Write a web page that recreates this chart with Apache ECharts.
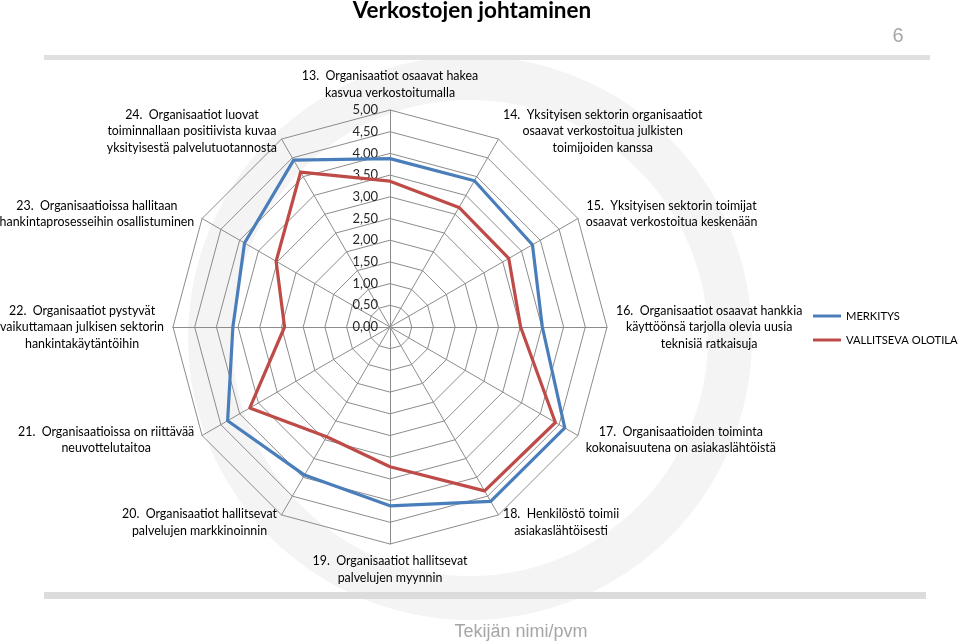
<!DOCTYPE html>
<html><head><meta charset="utf-8">
<script src="https://cdn.jsdelivr.net/npm/echarts@6/dist/echarts.min.js"></script>
<style>html,body{margin:0;padding:0;background:#fff}#c{width:960px;height:644px}</style>
</head><body><div id="c"></div>
<script>
// indicator names, in the reference's order 13..24 (clockwise from top)
const indicatorNames = [
  "13.  Organisaatiot osaavat hakea\nkasvua verkostoitumalla",
  "14.  Yksityisen sektorin organisaatiot\nosaavat verkostoitua julkisten\ntoimijoiden kanssa",
  "15.  Yksityisen sektorin toimijat\nosaavat verkostoitua keskenään",
  "16.  Organisaatiot osaavat hankkia\nkäyttöönsä tarjolla olevia uusia\nteknisiä ratkaisuja",
  "17.  Organisaatioiden toiminta\nkokonaisuutena on asiakaslähtöistä",
  "18.  Henkilöstö toimii\nasiakaslähtöisesti",
  "19.  Organisaatiot hallitsevat\npalvelujen myynnin",
  "20.  Organisaatiot hallitsevat\npalvelujen markkinoinnin",
  "21.  Organisaatioissa on riittävää\nneuvottelutaitoa",
  "22.  Organisaatiot pystyvät\nvaikuttamaan julkisen sektorin\nhankintakäytäntöihin",
  "23.  Organisaatioissa hallitaan\nhankintaprosesseihin osallistuminen",
  "24.  Organisaatiot luovat\ntoiminnallaan positiivista kuvaa\nyksityisestä palvelutuotannosta"
];
const merkitys   = [3.88, 3.89, 3.79, 3.51, 4.65, 4.64, 4.12, 3.94, 4.32, 3.62, 3.87, 4.44];
const vallitseva = [3.36, 3.18, 3.16, 3.01, 4.40, 4.36, 3.22, 2.92, 3.73, 2.43, 3.03, 4.12];
const seriesNames = ["MERKITYS", "VALLITSEVA OLOTILA"];
const tickLabels = ["0,00","0,50","1,00","1,50","2,00","2,50","3,00","3,50","4,00","4,50","5,00"];
const axisMax = 5;

// ECharts radar places indicators counter-clockwise; reorder so 13..24 run clockwise
const order = [0, 11, 10, 9, 8, 7, 6, 5, 4, 3, 2, 1];
const reorder = arr => order.map(i => arr[i]);

const FONT = 'Lato, "Noto Sans", sans-serif';
const CX = 390, CY = 327, R = 217;

const chart = echarts.init(document.getElementById('c'), null, {renderer: 'canvas'});
chart.setOption({
  backgroundColor: '#ffffff',
  animation: false,
  graphic: [
    {type: 'ring', z: -10, shape: {cx: 470, cy: 338, r: 282, r0: 238}, style: {fill: '#f4f4f4'}},
    {type: 'rect', z: -5, shape: {x: 44, y: 55, width: 886, height: 5}, style: {fill: '#e0e0e0'}},
    {type: 'rect', z: -5, shape: {x: 44, y: 592, width: 882, height: 7}, style: {fill: '#dcdcdc'}},
    {type: 'text', x: 472, y: 11, style: {text: 'Verkostojen johtaminen', align: 'center', verticalAlign: 'middle',
      fontFamily: 'Lato, sans-serif', fontWeight: 'bold', fontSize: 22.5, fill: '#000'}},
    {type: 'text', x: 898, y: 36, style: {text: '6', align: 'center', verticalAlign: 'middle',
      fontFamily: '"Liberation Sans", Arial, sans-serif', fontSize: 20, fill: '#a6a6a6'}},
    {type: 'text', x: 521, y: 632, style: {text: 'Tekijän nimi/pvm', align: 'center', verticalAlign: 'middle',
      fontFamily: '"Liberation Sans", Arial, sans-serif', fontSize: 18, fill: '#a6a6a6'}}
  ],
  legend: {
    orient: 'vertical', left: 808, top: 304, itemWidth: 28, itemHeight: 3, itemGap: 10,
    icon: 'rect', data: seriesNames,
    textStyle: {fontFamily: FONT, fontSize: 11.2, color: '#000', lineHeight: 14}
  },
  radar: {
    center: [CX, CY], radius: R, startAngle: 90, splitNumber: 10, shape: 'polygon',
    nameGap: 9,
    indicator: reorder(indicatorNames).map(n => ({name: n, min: 0, max: axisMax})),
    axisName: {
      formatter: name => name.split('\n').map(l => '{c|' + l + '}').join('\n'),
      rich: {c: {align: 'center', fontFamily: FONT, fontSize: 12.4, color: '#000', lineHeight: 16.5}}
    },
    axisLine: {lineStyle: {color: '#8c8c8c', width: 1}},
    splitLine: {lineStyle: {color: '#8c8c8c', width: 1}},
    splitArea: {show: false},
    axisTick: {show: false},
    axisLabel: {show: false}
  },
  grid: {left: CX, top: CY - R, width: 1, height: R},
  xAxis: {type: 'value', show: false},
  yAxis: {
    type: 'category', data: tickLabels, boundaryGap: false,
    axisLine: {show: false}, axisTick: {show: false}, splitLine: {show: false},
    axisLabel: {margin: 12, fontFamily: FONT, fontSize: 13, color: '#262626'}
  },
  series: [{
    type: 'radar', symbol: 'none',
    data: [
      {name: seriesNames[0], value: reorder(merkitys), lineStyle: {color: '#4a7ebb', width: 3.2}, itemStyle: {color: '#4a7ebb'}},
      {name: seriesNames[1], value: reorder(vallitseva), lineStyle: {color: '#be4b48', width: 3.2}, itemStyle: {color: '#be4b48'}}
    ]
  }]
});
</script></body></html>
